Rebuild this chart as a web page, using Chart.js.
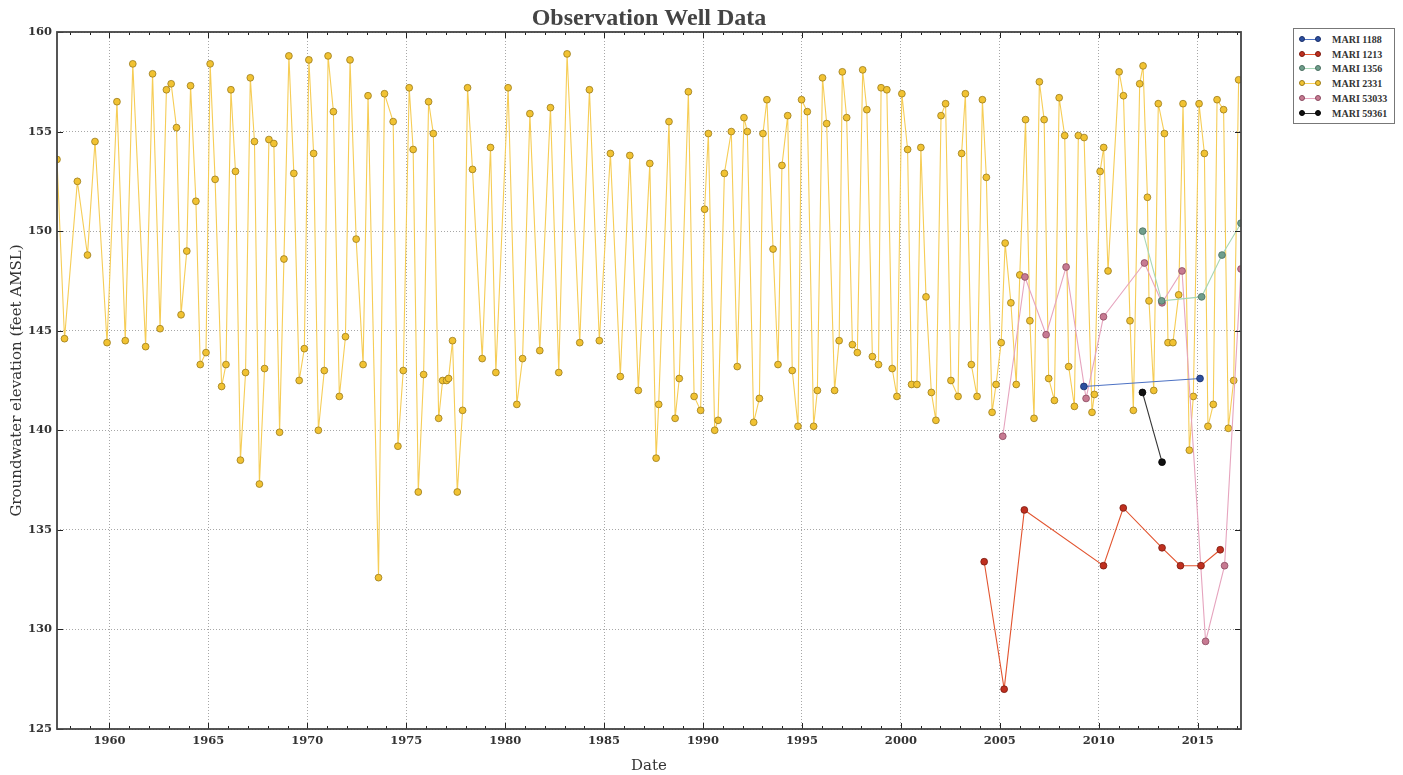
<html>
<head>
    <meta name="viewport" content="width=device-width">
    <script src="https://cdn.jsdelivr.net/npm/chart.js@4.4.1/dist/chart.umd.min.js"></script>
    <style>
        *{padding:0; margin:0;}
        body{background:#fff; width:1403px; height:775px; overflow:hidden; position:relative;}
        #legend{position:absolute; left:1293px; top:28px; width:100px; border:1px solid #777; background:#fff; padding:3px 0 2px 0;
            font-family:"Liberation Serif", serif; font-size:10px; font-weight:bold; color:#333;}
        #legend .row{height:14.8px; display:flex; align-items:center;}
        #legend .key{position:relative; width:22px; height:8px; margin:0 11px 0 5px;}
        #legend .key .ln{position:absolute; left:3px; right:3px; top:3.5px; height:1px;}
        #legend .key .dot{position:absolute; top:0.5px; width:6px; height:6px; border-radius:50%; box-sizing:border-box; border:0.8px solid;}
    </style>
</head>
<body onload="loadChart()">
    <canvas id="chart" width="1403" height="775"></canvas>
    <div id="legend"></div>
    <script>
        // MARI 2331 (long record)
        var mari2331Dates = [1957.35,1957.73,1958.38,1958.89,1959.27,1959.88,1960.38,1960.80,1961.18,1961.83,
            1962.18,1962.56,1962.88,1963.12,1963.39,1963.62,1963.91,1964.10,1964.37,1964.59,1964.88,
            1965.09,1965.34,1965.67,1965.89,1966.14,1966.37,1966.62,1966.88,1967.12,1967.33,1967.58,1967.84,
            1968.06,1968.31,1968.60,1968.82,1969.07,1969.32,1969.59,1969.85,1970.08,1970.32,1970.56,1970.86,
            1971.05,1971.32,1971.62,1971.93,1972.16,1972.47,1972.82,1973.07,1973.60,1973.90,1974.34,1974.58,
            1974.85,1975.15,1975.35,1975.61,1975.88,1976.13,1976.37,1976.64,1976.84,1977.04,1977.14,1977.34,
            1977.58,1977.85,1978.10,1978.35,1978.84,1979.26,1979.53,1980.15,1980.59,1980.88,1981.25,1981.75,
            1982.29,1982.71,1983.13,1983.77,1984.26,1984.76,1985.32,1985.82,1986.30,1986.73,1987.31,1987.63,
            1987.76,1988.28,1988.59,1988.80,1989.26,1989.55,1989.88,1990.08,1990.27,1990.59,1990.76,1991.08,
            1991.43,1991.73,1992.07,1992.24,1992.56,1992.85,1993.03,1993.23,1993.54,1993.79,1993.99,1994.28,
            1994.51,1994.80,1994.98,1995.27,1995.59,1995.78,1996.04,1996.25,1996.65,1996.88,1997.04,1997.26,
            1997.55,1997.80,1998.07,1998.28,1998.56,1998.87,1999.00,1999.29,1999.56,1999.80,2000.05,2000.34,
            2000.54,2000.81,2001.01,2001.27,2001.54,2001.77,2002.03,2002.26,2002.53,2002.89,2003.07,2003.26,
            2003.56,2003.85,2004.12,2004.32,2004.61,2004.81,2005.07,2005.27,2005.56,2005.83,2006.01,2006.30,
            2006.52,2006.73,2007.00,2007.24,2007.47,2007.76,2008.00,2008.28,2008.48,2008.77,2008.97,2009.26,
            2009.66,2009.78,2010.07,2010.25,2010.47,2011.03,2011.25,2011.58,2011.75,2012.07,2012.24,2012.46,
            2012.54,2012.78,2013.01,2013.32,2013.50,2013.75,2014.04,2014.26,2014.58,2014.78,2015.07,2015.34,
            2015.52,2015.79,2015.98,2016.31,2016.55,2016.82,2017.07];
        var mari2331Levels = [153.6,144.6,152.5,148.8,154.5,144.4,156.5,144.5,158.4,144.2,
            157.9,145.1,157.1,157.4,155.2,145.8,149.0,157.3,151.5,143.3,143.9,
            158.4,152.6,142.2,143.3,157.1,153.0,138.5,142.9,157.7,154.5,137.3,143.1,
            154.6,154.4,139.9,148.6,158.8,152.9,142.5,144.1,158.6,153.9,140.0,143.0,
            158.8,156.0,141.7,144.7,158.6,149.6,143.3,156.8,132.6,156.9,155.5,139.2,
            143.0,157.2,154.1,136.9,142.8,156.5,154.9,140.6,142.5,142.5,142.6,144.5,
            136.9,141.0,157.2,153.1,143.6,154.2,142.9,157.2,141.3,143.6,155.9,144.0,
            156.2,142.9,158.9,144.4,157.1,144.5,153.9,142.7,153.8,142.0,153.4,138.6,
            141.3,155.5,140.6,142.6,157.0,141.7,141.0,151.1,154.9,140.0,140.5,152.9,
            155.0,143.2,155.7,155.0,140.4,141.6,154.9,156.6,149.1,143.3,153.3,155.8,
            143.0,140.2,156.6,156.0,140.2,142.0,157.7,155.4,142.0,144.5,158.0,155.7,
            144.3,143.9,158.1,156.1,143.7,143.3,157.2,157.1,143.1,141.7,156.9,154.1,
            142.3,142.3,154.2,146.7,141.9,140.5,155.8,156.4,142.5,141.7,153.9,156.9,
            143.3,141.7,156.6,152.7,140.9,142.3,144.4,149.4,146.4,142.3,147.8,155.6,
            145.5,140.6,157.5,155.6,142.6,141.5,156.7,154.8,143.2,141.2,154.8,154.7,
            140.9,141.8,153.0,154.2,148.0,158.0,156.8,145.5,141.0,157.4,158.3,151.7,
            146.5,142.0,156.4,154.9,144.4,144.4,146.8,156.4,139.0,141.7,156.4,153.9,
            140.2,141.3,156.6,156.1,140.1,142.5,157.6];

        var mari1188Dates = [2009.25, 2015.12];
        var mari1188Levels = [142.2, 142.6];

        var mari1213Dates = [2004.21, 2005.22, 2006.24, 2010.24, 2011.24, 2013.20, 2014.13, 2015.17, 2016.14];
        var mari1213Levels = [133.4, 127.0, 136.0, 133.2, 136.1, 134.1, 133.2, 133.2, 134.0];

        var mari1356Dates = [2012.22, 2013.18, 2015.20, 2016.23, 2017.19];
        var mari1356Levels = [150.0, 146.5, 146.7, 148.8, 150.4];

        var mari53033Dates = [2005.15, 2006.27, 2007.34, 2008.35, 2009.36, 2010.24, 2012.31, 2013.20, 2014.21, 2015.40, 2016.36, 2017.19];
        var mari53033Levels = [139.7, 147.7, 144.8, 148.2, 141.6, 145.7, 148.4, 146.4, 148.0, 129.4, 133.2, 148.1];

        var mari59361Dates = [2012.21, 2013.20];
        var mari59361Levels = [141.9, 138.4];

        var yearTicks = [1960, 1965, 1970, 1975, 1980, 1985, 1990, 1995, 2000, 2005, 2010, 2015];
        var levelTicks = [125, 130, 135, 140, 145, 150, 155, 160];

        function pts(xs, ys) {
            return xs.map(function(x, i) { return {x: x, y: ys[i]}; });
        }

        function series(label, xs, ys, fill, edge, line, order) {
            return {
                label: label, data: pts(xs, ys), showLine: true,
                borderColor: line, borderWidth: 1.1,
                pointBackgroundColor: fill, pointBorderColor: edge, pointBorderWidth: 0.8,
                pointRadius: 3.4, pointHoverRadius: 3.4, order: order
            };
        }

        var serif = '"Liberation Serif", "Times New Roman", serif';
        var wide = '"DejaVu Serif", serif';

        var frame = {
            id: 'frame',
            afterDraw: function(chart) {
                var c = chart.ctx, a = chart.chartArea;
                var x = chart.scales.x, y = chart.scales.y;
                c.save();
                c.strokeStyle = '#222';
                c.lineWidth = 1;
                c.beginPath();
                for (var yr = Math.ceil(x.min); yr <= x.max; yr++) {
                    var px = Math.round(x.getPixelForValue(yr)) + 0.5;
                    var len = (yr % 5 === 0) ? 6 : 3;
                    c.moveTo(px, a.bottom); c.lineTo(px, a.bottom - len);
                    c.moveTo(px, a.top); c.lineTo(px, a.top + len);
                }
                levelTicks.forEach(function(v) {
                    var py = Math.round(y.getPixelForValue(v)) + 0.5;
                    c.moveTo(a.left, py); c.lineTo(a.left + 6, py);
                    c.moveTo(a.right, py); c.lineTo(a.right - 6, py);
                });
                c.stroke();
                c.strokeStyle = '#444';
                c.lineWidth = 1.8;
                c.strokeRect(a.left, a.top, a.right - a.left, a.bottom - a.top);
                c.restore();
            }
        };

        var config = {
            type: 'scatter',
            data: {
                datasets: [
                    series('MARI 1188', mari1188Dates, mari1188Levels, '#2c4f9e', '#1a2f6a', '#4d72c4', 1),
                    series('MARI 1213', mari1213Dates, mari1213Levels, '#bf2f1f', '#7a1a10', '#e2542f', 1),
                    series('MARI 1356', mari1356Dates, mari1356Levels, '#6f9e8c', '#4a6e60', '#a6d6b6', 1),
                    series('MARI 2331', mari2331Dates, mari2331Levels, '#f1c232', '#9a7b1c', '#f6cd56', 5),
                    series('MARI 53033', mari53033Dates, mari53033Levels, '#c77a92', '#8a4a60', '#e6a4be', 1),
                    series('MARI 59361', mari59361Dates, mari59361Levels, '#111111', '#000000', '#333333', 1)
                ]
            },
            options: {
                responsive: false,
                animation: false,
                layout: { padding: { left: 0, right: 162, top: 0, bottom: 0 } },
                plugins: {
                    legend: { display: false },
                    tooltip: { enabled: false },
                    title: {
                        display: true, fullSize: false,
                        text: 'Observation Well Data',
                        color: '#444',
                        font: { family: serif, size: 24, weight: 'bold', lineHeight: 1.0 },
                        padding: { top: 7, bottom: 1 }
                    }
                },
                scales: {
                    x: {
                        type: 'linear', min: 1957.35, max: 2017.19,
                        afterBuildTicks: function(axis) { axis.ticks = yearTicks.map(function(v) { return {value: v}; }); },
                        afterFit: function(scale) { scale.height = 46; },
                        grid: { color: 'rgba(80,80,80,0.5)', drawTicks: false },
                        border: { display: false, dash: [1, 2] },
                        ticks: { padding: 5, color: '#333', font: { family: wide, size: 11.5, weight: 'bold' }, maxRotation: 0,
                            callback: function(v) { return String(v); } },
                        title: { display: true, text: 'Date', color: '#333', padding: { top: 2, bottom: 0 },
                            font: { family: wide, size: 15 } }
                    },
                    y: {
                        min: 125, max: 160,
                        afterBuildTicks: function(axis) { axis.ticks = levelTicks.map(function(v) { return {value: v}; }); },
                        afterFit: function(scale) { scale.width = 57; },
                        grid: { color: 'rgba(80,80,80,0.5)', drawTicks: false },
                        border: { display: false, dash: [1, 2] },
                        ticks: { padding: 5, color: '#333', font: { family: wide, size: 11.5, weight: 'bold' } },
                        title: { display: true, text: 'Groundwater elevation (feet AMSL)', color: '#333', padding: { top: 8, bottom: 0 },
                            font: { family: wide, size: 15 } }
                    }
                }
            },
            plugins: [frame]
        };

        var chart = null;
        function loadChart() {
            var ctx = document.getElementById("chart").getContext("2d");
            chart = new Chart(ctx, config);
            var lg = document.getElementById('legend');
            config.data.datasets.forEach(function(ds) {
                var row = document.createElement('div');
                row.className = 'row';
                row.innerHTML = '<span class="key"><span class="ln" style="background:' + ds.borderColor + '"></span>' +
                    '<span class="dot" style="left:0;background:' + ds.pointBackgroundColor + ';border-color:' + ds.pointBorderColor + '"></span>' +
                    '<span class="dot" style="right:0;background:' + ds.pointBackgroundColor + ';border-color:' + ds.pointBorderColor + '"></span></span>' +
                    '<span>' + ds.label + '</span>';
                lg.appendChild(row);
            });
        }
    </script>
</body>
</html>
